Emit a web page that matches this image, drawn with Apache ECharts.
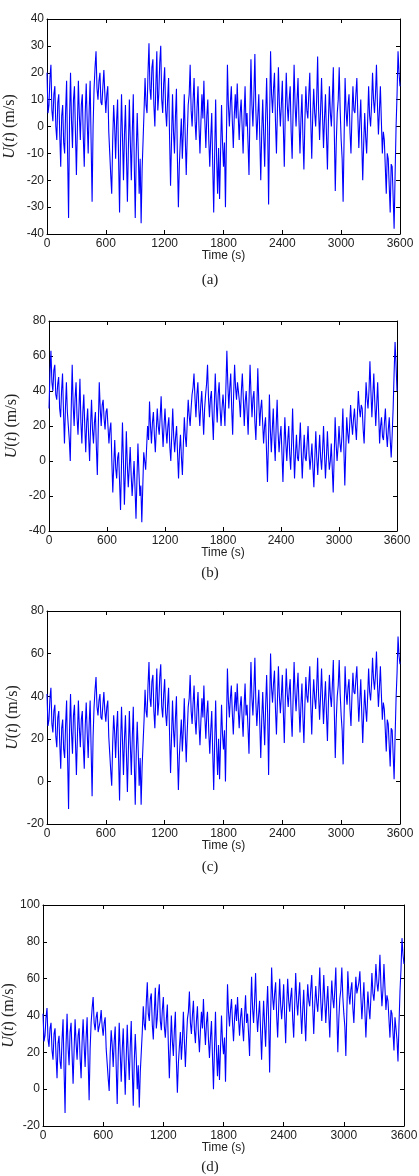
<!DOCTYPE html>
<html>
<head>
<meta charset="utf-8">
<script src="https://cdn.jsdelivr.net/npm/echarts@6/dist/echarts.min.js"></script>
<style>
  html, body { margin: 0; padding: 0; background: #fff; }
  #chart { width: 419px; height: 1176px; }
</style>
</head>
<body>
<div id="chart"></div>
<script>
'use strict';

// sample spacing (s) of the series below
var STEP = 10;

// time axis
var xMin = 0;
var xMax = 3600;
var xStep = 600;

// (a) U(t), m/s, one value every 10 s (one row = 200 s)
var uA = [
    20, 5, 8, 18, 23, 6, 2, 12, 15, 0, -5, 9, 12, -3, -15, 4, 8, -6, -10, 6,
    17, -10, -34, 3, 20, 2, -8, 10, 15, -2, -18, 0, 17, 4, -5, 8, 12, -4, -15, 5,
    16, 2, -10, 6, 17, -6, -28, 0, 14, 22, 28, 14, 10, 17, 20, 9, 8, 15, 21, 12,
    5, 12, 15, -2, -10, -18, -25, -5, 8, 0, -12, 2, 10, -12, -32, -6, 12, -4, -20, -3,
    8, -10, -28, -8, 10, -6, -20, -2, 12, -14, -34, -10, 5, -8, -25, -12, -36, -16, -5, 6,
    18, 8, 5, 20, 31, 14, 10, 22, 25, 8, 0, 15, 28, 6, 12, 24, 30, 10, 5, 16,
    22, 6, 0, 10, 18, -4, -22, -5, 12, -2, -10, 4, 14, -12, -30, -14, -5, 3, -12, -2,
    12, -4, -18, -4, 8, 12, 23, 6, 0, 10, 18, 2, -5, 7, 15, 0, -10, 2, 12, 3,
    17, 2, -8, 4, 10, -5, -15, -4, 5, -14, -32, -10, 10, -12, -25, -8, -27, -10, 8, -6,
    -15, -6, -30, -4, 23, 8, 0, 9, 15, 2, -8, 4, 12, 3, 16, 4, -5, 5, 10, 0,
    -10, 4, 15, 0, 5, -6, -18, 6, 25, 8, 0, 12, 27, 6, -5, 4, 12, -4, -20, -2,
    10, -3, -15, 4, 18, 0, -29, 2, 28, 12, 5, 14, 20, 2, -10, 6, 22, 8, 0, 8,
    17, 0, -15, 5, 20, 8, 2, 10, 15, -2, -12, 6, 23, 8, 0, 10, 18, 2, -10, 3,
    12, -4, -16, 2, 15, 6, 3, 12, 20, 2, -12, 4, 14, 5, 0, 10, 26, 6, -5, 6,
    18, 4, -8, 3, 12, -3, -16, 2, 15, 5, 0, 10, 22, -2, -24, -6, 5, 10, 22, 6,
    -5, -12, -28, -4, 18, 6, 0, 8, 12, -2, -10, 4, 15, 6, 5, 12, 18, 4, -8, 2,
    10, -6, -20, -6, 5, -4, -10, 2, 15, 4, 0, 8, 20, 10, 5, 12, 23, 8, -3, 6,
    15, 2, -10, -2, -5, -15, -25, -10, -12, -22, -32, -14, -15, -26, -38, -18, 0, 12, 28, 20,
    15
];

// (b)
var uB = [
    30, 50, 63, 45, 40, 52, 55, 38, 35, 44, 48, 30, 25, 40, 50, 28, 10, 30, 45, 28,
    20, 12, 0, 30, 55, 32, 20, 36, 45, 25, 15, 30, 47, 22, 10, 28, 38, 20, 5, 22,
    30, 14, 0, 20, 35, 18, 10, 22, 28, 8, -8, 20, 45, 30, 20, 32, 35, 24, 18, 28,
    30, 20, 10, 18, 22, 0, -18, -2, 12, -4, -10, 2, 5, -12, -28, -2, 22, 0, -25, -6,
    17, -2, -15, -4, 8, -8, -20, -10, 0, -16, -33, -10, 10, -6, -20, -14, -35, -15, 5, 0,
    -5, 8, 20, 12, 34, 20, 10, 22, 28, 15, 5, 18, 30, 20, 15, 25, 37, 20, 8, 20,
    30, 18, 10, 20, 25, 8, 0, 15, 30, 14, 5, 14, 20, 4, -10, 6, 15, 2, -8, 10,
    25, 14, 8, 22, 35, 26, 20, 30, 38, 42, 50, 36, 25, 38, 45, 30, 20, 32, 40, 28,
    15, 30, 38, 44, 55, 36, 25, 36, 40, 25, 12, 32, 50, 34, 22, 38, 45, 30, 20, 30,
    38, 30, 20, 42, 63, 44, 30, 42, 50, 30, 15, 38, 55, 42, 35, 45, 45, 34, 25, 40,
    50, 36, 20, 34, 40, 28, 15, 36, 55, 38, 25, 36, 40, 22, 12, 30, 53, 34, 20, 30,
    35, 22, 10, 20, 25, 6, -12, 10, 38, 18, 5, 18, 30, 12, 0, 20, 35, 16, 5, 14,
    20, 4, -12, 8, 25, 10, 0, 12, 20, 4, -5, 10, 30, 8, -10, 4, 15, 2, 0, 10,
    22, 5, -10, 4, 15, 2, 0, 10, 20, 4, -5, 2, 10, -4, -15, 2, 17, 2, -8, 4,
    15, 2, -5, 6, 20, 4, -10, 2, 17, 4, -5, 0, 10, -4, -18, 2, 25, 10, 0, 8,
    20, 10, 5, 14, 30, 8, -14, 6, 25, 16, 10, 20, 32, 22, 15, 24, 30, 20, 12, 26,
    40, 30, 25, 32, 30, 18, 10, 28, 45, 36, 30, 40, 57, 40, 25, 38, 50, 34, 20, 32,
    45, 28, 10, 20, 25, 14, 12, 22, 30, 16, 8, 18, 25, 12, 2, 15, 30, 50, 68, 55,
    40
];

// (c)
var uC = [
    41, 26, 29, 39, 44, 27, 23, 33, 36, 21, 16, 30, 33, 18, 6, 25, 29, 15, 11, 27,
    38, 11, -13, 24, 41, 23, 13, 31, 36, 19, 3, 21, 38, 25, 16, 29, 33, 17, 6, 26,
    37, 23, 11, 27, 38, 15, -7, 21, 35, 43, 49, 35, 31, 38, 41, 30, 29, 36, 42, 33,
    28, 35, 38, 21, 13, 5, -2, 18, 31, 23, 11, 25, 33, 11, -9, 17, 35, 19, 3, 20,
    31, 13, -5, 15, 33, 17, 3, 21, 35, 9, -11, 13, 28, 15, -2, 11, -11, 7, 18, 29,
    43, 33, 30, 45, 56, 39, 35, 47, 50, 33, 25, 40, 53, 31, 37, 49, 55, 35, 30, 41,
    48, 32, 26, 36, 44, 22, 4, 21, 38, 24, 16, 30, 40, 14, -4, 12, 21, 29, 14, 24,
    39, 23, 9, 23, 35, 39, 50, 33, 27, 37, 45, 29, 22, 34, 42, 27, 17, 29, 39, 30,
    45, 30, 20, 32, 38, 23, 13, 24, 33, 14, -4, 18, 38, 16, 3, 20, 1, 18, 36, 22,
    15, 24, 0, 26, 53, 38, 30, 39, 45, 32, 22, 34, 42, 33, 46, 34, 25, 35, 40, 30,
    21, 35, 46, 31, 36, 25, 13, 37, 56, 39, 31, 43, 58, 37, 26, 35, 43, 27, 11, 29,
    42, 29, 17, 36, 50, 32, 3, 34, 60, 44, 37, 46, 52, 34, 22, 38, 54, 40, 32, 40,
    50, 33, 18, 38, 53, 41, 35, 43, 48, 31, 21, 39, 56, 41, 33, 43, 51, 35, 23, 36,
    46, 30, 18, 36, 49, 40, 37, 46, 54, 36, 22, 38, 48, 39, 34, 44, 58, 40, 29, 40,
    53, 39, 27, 38, 47, 32, 19, 37, 50, 40, 35, 45, 57, 33, 11, 29, 40, 45, 57, 41,
    31, 24, 8, 32, 54, 42, 36, 44, 48, 34, 26, 40, 51, 42, 41, 48, 54, 40, 28, 38,
    48, 32, 18, 32, 43, 34, 28, 40, 53, 42, 38, 46, 58, 48, 43, 50, 61, 46, 35, 44,
    54, 41, 29, 37, 34, 24, 14, 29, 27, 17, 7, 25, 24, 13, 1, 21, 39, 51, 68, 59,
    55
];

// (d)
var uD = [
    41, 26, 29, 39, 44, 27, 23, 33, 36, 21, 16, 30, 33, 18, 6, 25, 29, 15, 11, 27,
    38, 11, -13, 24, 41, 23, 13, 31, 36, 19, 3, 21, 38, 25, 16, 29, 33, 17, 6, 26,
    38, 24, 12, 28, 39, 16, -6, 22, 36, 44, 50, 36, 32, 39, 42, 31, 30, 37, 43, 34,
    29, 36, 39, 22, 14, 6, -1, 19, 32, 24, 12, 26, 34, 12, -8, 18, 36, 20, 4, 21,
    33, 15, -3, 17, 35, 19, 5, 23, 37, 11, -9, 15, 30, 17, 0, 13, -10, 9, 20, 31,
    45, 35, 32, 47, 58, 41, 37, 49, 52, 35, 27, 42, 55, 33, 39, 51, 57, 37, 32, 43,
    50, 34, 28, 38, 46, 24, 6, 23, 40, 26, 18, 32, 42, 16, -2, 14, 23, 31, 16, 26,
    42, 26, 12, 26, 38, 42, 53, 36, 30, 40, 48, 32, 25, 37, 45, 30, 20, 32, 42, 33,
    49, 34, 24, 36, 42, 27, 17, 28, 37, 18, 0, 22, 42, 20, 7, 24, 5, 22, 40, 26,
    19, 28, 4, 30, 57, 42, 34, 43, 49, 36, 26, 38, 46, 37, 50, 38, 29, 39, 44, 34,
    26, 40, 51, 36, 41, 30, 18, 42, 61, 44, 36, 48, 63, 42, 31, 40, 48, 32, 16, 34,
    48, 35, 23, 42, 56, 38, 9, 40, 66, 50, 43, 52, 58, 40, 28, 44, 60, 46, 38, 46,
    57, 40, 25, 45, 60, 48, 42, 50, 55, 38, 28, 46, 63, 48, 40, 50, 58, 42, 30, 43,
    54, 38, 26, 44, 57, 48, 45, 54, 62, 44, 30, 46, 56, 47, 42, 52, 66, 48, 37, 48,
    62, 48, 36, 47, 56, 41, 28, 46, 59, 49, 44, 54, 66, 42, 20, 38, 49, 54, 66, 50,
    41, 34, 18, 42, 64, 52, 46, 54, 58, 44, 36, 50, 61, 52, 51, 58, 64, 50, 38, 48,
    58, 42, 28, 42, 53, 44, 38, 50, 63, 52, 48, 56, 68, 58, 53, 60, 73, 56, 45, 54,
    68, 55, 43, 51, 48, 38, 28, 43, 41, 31, 21, 39, 38, 27, 15, 35, 53, 65, 82, 73,
    68
];

// y axis ranges per panel
var yMins = [-40, -40, -20, -20];
var yMaxs = [40, 80, 80, 100];
var ySteps = [10, 20, 20, 20];
var captions = ['(a)', '(b)', '(c)', '(d)'];

// layout of the four panels
var layout = [
    { left: 47, top: 19, width: 353, height: 215, capY: 280, nameGap: 29 },
    { left: 49, top: 321, width: 348, height: 210, capY: 573, nameGap: 29 },
    { left: 47, top: 611, width: 353, height: 213, capY: 867, nameGap: 26 },
    { left: 43, top: 905, width: 361, height: 221, capY: 1167, nameGap: 26 }
];

var series = [uA, uB, uC, uD];
var textColor = '#222';
var sans = 'Liberation Sans';
var serif = 'Liberation Serif';

var toPairs = function (arr) {
    var out = [];
    for (var i = 0; i < arr.length; i++) {
        out.push([i * STEP, arr[i]]);
    }
    return out;
};
// plain numbers, no thousands separator
var plain = function (v) {
    return String(v);
};

var option = {
    animation: false,
    backgroundColor: '#fff',
    grid: [],
    xAxis: [],
    yAxis: [],
    series: [],
    graphic: []
};

var boxLine = { show: true, onZero: false, lineStyle: { color: '#000', width: 1 } };
var tick = { show: true, inside: true, length: 4, lineStyle: { color: '#000', width: 1 } };

layout.forEach(function (l, k) {
    // fixed box, labels may sit outside it
    option.grid.push({
        left: l.left, top: l.top, width: l.width, height: l.height,
        containLabel: false, outerBoundsMode: 'none'
    });

    // bottom axis, labelled
    option.xAxis.push({
        type: 'value', gridIndex: k, position: 'bottom',
        min: xMin, max: xMax, interval: xStep,
        axisLine: boxLine, axisTick: tick, splitLine: { show: false },
        axisLabel: { color: textColor, fontFamily: sans, fontSize: 12, margin: 4, formatter: plain },
        name: 'Time (s)', nameLocation: 'middle', nameGap: 16, nameMoveOverlap: false,
        nameTextStyle: { color: textColor, fontFamily: sans, fontSize: 12 }
    });
    // top axis, ticks only
    option.xAxis.push({
        type: 'value', gridIndex: k, position: 'top',
        min: xMin, max: xMax, interval: xStep,
        axisLine: boxLine, axisTick: tick, splitLine: { show: false },
        axisLabel: { show: false }
    });

    option.yAxis.push({
        type: 'value', gridIndex: k, position: 'left',
        min: yMins[k], max: yMaxs[k], interval: ySteps[k],
        axisLine: boxLine, axisTick: tick, splitLine: { show: false },
        axisLabel: { color: textColor, fontFamily: sans, fontSize: 12, margin: 3, formatter: plain },
        name: '{it|U}({it|t}) (m/s)', nameLocation: 'middle', nameRotate: 90,
        nameGap: l.nameGap, nameMoveOverlap: false,
        nameTextStyle: {
            color: textColor, fontFamily: serif, fontSize: 16,
            rich: { it: { fontStyle: 'italic', fontFamily: serif, fontSize: 16, color: textColor } }
        }
    });
    option.yAxis.push({
        type: 'value', gridIndex: k, position: 'right',
        min: yMins[k], max: yMaxs[k], interval: ySteps[k],
        axisLine: boxLine, axisTick: tick, splitLine: { show: false },
        axisLabel: { show: false }
    });

    option.series.push({
        type: 'line',
        xAxisIndex: k * 2,
        yAxisIndex: k * 2,
        data: toPairs(series[k]),
        showSymbol: false,
        symbol: 'none',
        lineStyle: { color: '#0000ff', width: 1.1 },
        silent: true
    });

    option.graphic.push({
        type: 'text',
        x: 210,
        y: l.capY,
        style: {
            text: captions[k],
            fill: textColor,
            font: '15px "Liberation Serif"',
            textAlign: 'center',
            textVerticalAlign: 'middle',
            verticalAlign: 'middle'
        }
    });
});

var chart = echarts.init(document.getElementById('chart'), null, { renderer: 'canvas' });
chart.setOption(option);
</script>
</body>
</html>
